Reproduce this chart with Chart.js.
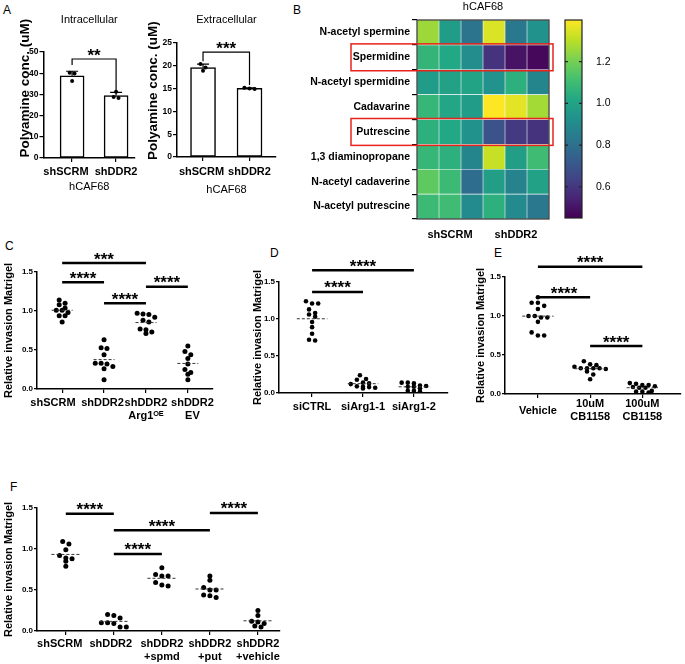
<!DOCTYPE html>
<html>
<head>
<meta charset="utf-8">
<script src="https://cdn.jsdelivr.net/npm/chart.js@4.4.1/dist/chart.umd.min.js"></script>
<style>
  body { margin: 0; background: #fff; width: 685px; height: 664px; position: relative; overflow: hidden; font-family: "Liberation Sans", Arial, sans-serif; }
  canvas { position: absolute; }
  .tag { position: absolute; font-size: 12px; line-height: 14px; color: #000; }
</style>
</head>
<body>
<div class="tag" style="left:3px;top:3px">A</div>
<div class="tag" style="left:293px;top:3px">B</div>
<div class="tag" style="left:5px;top:239px">C</div>
<div class="tag" style="left:270px;top:246px">D</div>
<div class="tag" style="left:494px;top:246px">E</div>
<div class="tag" style="left:10px;top:480px">F</div>

<canvas id="aIn" width="150" height="200" style="left:0;top:0"></canvas>
<canvas id="aEx" width="150" height="200" style="left:135px;top:0"></canvas>
<canvas id="heat" width="330" height="240" style="left:230px;top:0"></canvas>
<canvas id="cbar" width="60" height="240" style="left:560px;top:0"></canvas>
<canvas id="pC" width="225" height="200" style="left:0;top:225px"></canvas>
<canvas id="pD" width="225" height="200" style="left:230px;top:225px"></canvas>
<canvas id="pE" width="230" height="200" style="left:455px;top:225px"></canvas>
<canvas id="pF" width="300" height="209" style="left:0;top:455px"></canvas>

<script>
// ---- data ----
// A: polyamine conc. (uM), hCAF68
const barLabels = ['shSCRM', 'shDDR2'];
const intraSCRM = [40.2, 39.8, 36.3];
const intraDDR2 = [31.2, 28.3, 28.8];
const extraSCRM = [20.4, 18.9, 19.6];
const extraDDR2 = [15.2, 14.9, 15.0];
const intraBracket = [46.7, 43.9, 32.1]; // bar level, left end, right end
const extraBracket = [23.0, 21.0, 15.8];

// B: heatmap, 3 shSCRM + 3 shDDR2 columns
const heatRows = ['N-acetyl spermine', 'Spermidine', 'N-acetyl spermidine', 'Cadavarine',
  'Putrescine', '1,3 diaminopropane', 'N-acetyl cadaverine', 'N-acetyl putrescine'];
const heatGroups = ['shSCRM', 'shDDR2'];
const nAcSpermine    = [1.26, 0.97, 0.81, 1.35, 0.83, 0.93];
const spermidine     = [1.07, 1.02, 0.91, 0.59, 0.50, 0.47];
const nAcSpermidine  = [0.97, 0.99, 1.00, 0.93, 1.05, 0.88];
const cadavarine     = [1.08, 1.01, 0.97, 1.40, 1.36, 1.27];
const putrescine     = [1.05, 1.02, 0.93, 0.69, 0.61, 0.59];
const diaminopropane = [1.08, 1.05, 0.88, 1.32, 0.98, 1.10];
const nAcCadaverine  = [1.16, 1.09, 0.79, 0.98, 0.87, 0.99];
const nAcPutrescine  = [1.09, 1.10, 0.90, 1.05, 0.90, 0.83];
const boxedRows = ['Spermidine', 'Putrescine'];
const cbarRange = [0.45, 1.4];
const cbarTicks = [0.6, 0.8, 1.0, 1.2];

// C
const cLabels = ['shSCRM', 'shDDR2', ['shDDR2', 'Arg1\u1D3C\u1D31'], ['shDDR2', 'EV']];
const cSCRM = [1.14, 1.10, 1.08, 1.04, 0.98, 1.01, 1.01, 0.94, 0.94, 0.86];
const cDDR2 = [0.63, 0.53, 0.52, 0.44, 0.33, 0.29, 0.32, 0.33, 0.26, 0.12];
const cArg1 = [0.96, 0.97, 0.955, 0.86, 0.88, 0.92, 0.71, 0.77, 0.76, 0.73];
const cEV   = [0.55, 0.44, 0.48, 0.39, 0.25, 0.32, 0.19, 0.21, 0.12];
const cSig  = [[0, 2, 1.615, '***'], [0, 1, 1.37, '****'], [1, 2, 1.10, '****'], [2, 3, 1.31, '****']];

// D
const dLabels = ['siCTRL', 'siArg1-1', 'siArg1-2'];
const dCTRL  = [1.21, 1.24, 1.21, 1.13, 1.08, 1.06, 0.96, 1.03, 0.89, 0.80, 0.71, 0.72];
const dArg1a = [0.24, 0.18, 0.19, 0.14, 0.12, 0.13, 0.085, 0.07, 0.08, 0.06, 0.09];
const dArg1b = [0.14, 0.14, 0.13, 0.10, 0.085, 0.095, 0.085, 0.065, 0.02, 0.03, 0.03];
const dSig   = [[0, 2, 1.66, '****'], [0, 1, 1.365, '****']];

// E
const eLabels = ['Vehicle', ['10uM', 'CB1158'], ['100uM', 'CB1158']];
const eVeh   = [1.24, 1.17, 1.17, 1.13, 1.09, 1.0, 0.98, 0.98, 1.0, 0.925, 0.75, 0.75, 0.79];
const eCB10  = [0.42, 0.38, 0.35, 0.37, 0.33, 0.32, 0.33, 0.33, 0.33, 0.29, 0.25, 0.19];
const eCB100 = [0.14, 0.115, 0.13, 0.115, 0.10, 0.08, 0.09, 0.08, 0.03, 0.03, 0.02, 0.04];
const eSig   = [[0, 2, 1.63, '****'], [0, 1, 1.24, '****'], [1, 2, 0.615, '****']];

// F
const fLabels = ['shSCRM', 'shDDR2', ['shDDR2', '+spmd'], ['shDDR2', '+put'], ['shDDR2', '+vehicle']];
const fSCRM = [1.09, 1.06, 0.99, 0.88, 0.89, 0.92, 0.85, 0.79];
const fDDR2 = [0.20, 0.19, 0.16, 0.05, 0.10, 0.09, 0.10, 0.05];
const fSpmd = [0.77, 0.67, 0.69, 0.67, 0.55, 0.59, 0.56];
const fPut  = [0.67, 0.62, 0.50, 0.53, 0.50, 0.41, 0.44, 0.43];
const fVeh  = [0.25, 0.19, 0.12, 0.11, 0.06, 0.09, 0.05];
const fSig  = [[0, 1, 1.43, '****'], [1, 3, 1.23, '****'], [1, 2, 0.94, '****'], [3, 4, 1.44, '****']];

// ---- helpers ----
Chart.defaults.font.family = '"Liberation Sans", "DejaVu Sans", Arial, sans-serif';
Chart.defaults.color = '#000';

const mean = a => a.reduce((s, v) => s + v, 0) / a.length;
const sd = a => { const m = mean(a); return Math.sqrt(a.reduce((s, v) => s + (v - m) ** 2, 0) / (a.length - 1)); };

// prism-like spreading of dots: similar values share a row
function swarm(vals, bin, step) {
  const idx = vals.map((v, i) => i).sort((a, b) => vals[b] - vals[a]);
  const off = vals.map(() => 0);
  let row = [];
  const flush = () => { row.forEach((k, n) => { off[k] = (n - (row.length - 1) / 2) * step; }); row = []; };
  idx.forEach(k => { if (row.length && vals[row[0]] - vals[k] > bin) flush(); row.push(k); });
  flush();
  return off;
}

// shift a label along its line with spaces (neg = trailing, pos = leading)
function nudge(label, n) {
  if (!n) return label;
  const pad = ' '.repeat(Math.abs(n));
  const f = s => n < 0 ? s + pad : pad + s;
  return Array.isArray(label) ? label.map(f) : f(label);
}

const starFont = 'bold 17px "Liberation Sans", Arial, sans-serif';
const starPlugin = {
  id: 'stars',
  afterDatasetsDraw(chart) {
    const ctx = chart.ctx;
    chart.data.datasets.forEach((d, i) => {
      if (!d.stars) return;
      const pts = chart.getDatasetMeta(i).data;
      ctx.save();
      ctx.font = starFont;
      ctx.textAlign = 'center';
      ctx.textBaseline = 'alphabetic';
      ctx.fillStyle = '#000';
      ctx.fillText(d.stars, (pts[0].x + pts[1].x) / 2, pts[0].y + 1.5);
      ctx.restore();
    });
  }
};

const axisGrid = { drawOnChartArea: false, tickLength: 4, color: '#000', lineWidth: 1.2, offset: false };
const axisBorder = { color: '#000', width: 1.5 };

// ---- A: bar charts ----
function barChart(id, groups, o) {
  const pts = [];
  groups.forEach((g, i) => {
    const off = swarm(g, o.bin, 0.11);
    g.forEach((v, k) => pts.push({ x: i + off[k], y: v }));
  });
  new Chart(document.getElementById(id), {
    type: 'bar',
    data: {
      datasets: [
        { type: 'scatter', data: pts, pointRadius: 2, backgroundColor: '#000', borderWidth: 0, order: 0 },
        { type: 'bar', data: groups.map((g, i) => ({ x: i, y: mean(g) })), backgroundColor: '#fff',
          borderColor: '#000', borderWidth: 1.5, borderSkipped: false, barThickness: o.bar, order: 1 }
      ]
    },
    options: {
      responsive: false, animation: false,
      layout: { padding: { top: 0, right: o.padRight, bottom: 0, left: 0 } },
      plugins: {
        legend: { display: false }, tooltip: { enabled: false },
        title: { display: true, text: o.title, fullSize: false, font: { size: 11, weight: 'normal' },
          padding: { top: 13.4, bottom: o.titleGap } }
      },
      scales: {
        x: {
          type: 'linear', min: o.xr[0], max: o.xr[1], offset: false,
          afterBuildTicks: s => { s.ticks = barLabels.map((_, i) => ({ value: i })); },
          afterFit: s => { s.height = o.xh; },
          ticks: { callback: (v, i) => nudge(barLabels[i], o.nudge[i]), autoSkip: false, maxRotation: 0, padding: o.xtp,
            font: { size: 11, weight: 'bold' } },
          title: { display: true, text: 'hCAF68', font: { size: 11, weight: 'normal' }, padding: { top: 0, bottom: o.xtb } },
          grid: axisGrid, border: axisBorder
        },
        y: {
          min: 0, max: o.ymax,
          ticks: { stepSize: o.ystep, padding: 1, font: { size: 8.5, weight: 'bold' } },
          title: { display: true, text: nudge('Polyamine conc. (uM)', o.titleShift), font: { size: 13.5, weight: 'bold' }, padding: { top: o.ytp, bottom: 0 } },
          afterFit: s => { s.width = o.yw; },
          grid: axisGrid, border: axisBorder
        }
      }
    },
    plugins: [{
      id: 'errbars',
      beforeDatasetsDraw(chart) {
        const { ctx, scales: { x, y } } = chart;
        ctx.save();
        ctx.strokeStyle = '#000';
        ctx.lineWidth = 1.2;
        groups.forEach((g, i) => {
          const px = x.getPixelForValue(i), y0 = y.getPixelForValue(mean(g)), y1 = y.getPixelForValue(mean(g) + sd(g));
          ctx.beginPath();
          ctx.moveTo(px, y0); ctx.lineTo(px, y1);
          ctx.moveTo(px - 6, y1); ctx.lineTo(px + 6, y1);
          ctx.stroke();
        });
        ctx.restore();
      }
    }, {
      id: 'bracket',
      afterDatasetsDraw(chart) {
        const { ctx, scales: { x, y } } = chart;
        const b = o.bracket;
        const x0 = x.getPixelForValue(0), x1 = x.getPixelForValue(1), yl = y.getPixelForValue(b[0]);
        ctx.save();
        ctx.strokeStyle = '#000';
        ctx.lineWidth = 1.2;
        ctx.beginPath();
        ctx.moveTo(x0, y.getPixelForValue(b[1]));
        ctx.lineTo(x0, yl); ctx.lineTo(x1, yl);
        ctx.lineTo(x1, y.getPixelForValue(b[2]));
        ctx.stroke();
        ctx.font = starFont;
        ctx.textAlign = 'center';
        ctx.fillStyle = '#000';
        ctx.fillText(o.stars, (x0 + x1) / 2, yl + 2);
        ctx.restore();
      }
    }]
  });
}

barChart('aIn', [intraSCRM, intraDDR2], {
  title: 'Intracellular', titleGap: 25.4, stars: '**', bracket: intraBracket,
  ymax: 50, ystep: 10, bin: 2, bar: 24, nudge: [-4, 0], titleShift: 9,
  xr: [-0.65, 1.43], yw: 43.5, padRight: 15, xh: 42, xtp: 3.4, xtb: 6.4, ytp: 16.9
});
barChart('aEx', [extraSCRM, extraDDR2], {
  title: 'Extracellular', titleGap: 16.4, stars: '***', bracket: extraBracket,
  ymax: 25, ystep: 5, bin: 0.9, bar: 25, nudge: [-1, 0], titleShift: 5,
  xr: [-0.56, 1.57], yw: 42, padRight: 9, xh: 43, xtp: 4.4, xtb: 3.4, ytp: 10.4
});

// ---- B: heatmap ----
const viridisStops = ['#440154', '#482475', '#414487', '#355f8d', '#2a788e', '#21918c',
  '#22a884', '#44bf70', '#7ad151', '#bddf26', '#fde725'];
function hexRgb(h) { return [1, 3, 5].map(i => parseInt(h.slice(i, i + 2), 16)); }
function viridis(v) {
  const t = Math.max(0, Math.min(1, (v - cbarRange[0]) / (cbarRange[1] - cbarRange[0])));
  const p = t * 10, i = Math.min(9, Math.floor(p)), f = p - i;
  const a = hexRgb(viridisStops[i]), b = hexRgb(viridisStops[i + 1]);
  return 'rgb(' + a.map((c, k) => Math.round(c + (b[k] - c) * f)).join(',') + ')';
}

const heat = [nAcSpermine, spermidine, nAcSpermidine, cadavarine, putrescine, diaminopropane, nAcCadaverine, nAcPutrescine];
const heatSets = heat[0].map((_, c) => ({
  data: heatRows.map(() => 1),
  backgroundColor: heat.map(r => viridis(r[c])),
  borderColor: 'rgba(255,255,255,0.3)', borderWidth: 0.6, borderSkipped: false,
  barPercentage: 1, categoryPercentage: 1, stack: 'h'
}));

new Chart(document.getElementById('heat'), {
  type: 'bar',
  data: { labels: heatRows, datasets: heatSets },
  options: {
    indexAxis: 'y', responsive: false, animation: false,
    layout: { padding: { top: 0, right: 11, bottom: 0, left: 0 } },
    plugins: {
      legend: { display: false }, tooltip: { enabled: false },
      title: { display: true, text: 'hCAF68', fullSize: false, font: { size: 11, weight: 'normal' }, padding: { top: 0.5, bottom: 6.3 } }
    },
    scales: {
      x: {
        type: 'linear', stacked: true, min: 0, max: 6,
        afterBuildTicks: s => { s.ticks = [{ value: 1.5 }, { value: 4.5 }]; },
        afterFit: s => { s.height = 21; },
        ticks: { callback: (v, i) => heatGroups[i], padding: 1, font: { size: 11, weight: 'bold' } },
        grid: { display: false }, border: { display: false }
      },
      y: {
        stacked: true,
        afterFit: s => { s.width = 187; },
        ticks: { padding: 2, font: { size: 10.5, weight: 'bold' } },
        grid: { drawOnChartArea: false, tickLength: 5, color: '#000', lineWidth: 1.2 },
        border: { display: false }
      }
    }
  },
  plugins: [{
    id: 'frame',
    afterDatasetsDraw(chart) {
      const { ctx, chartArea: a, scales: { y } } = chart;
      const band = (a.bottom - a.top) / heatRows.length;
      ctx.save();
      ctx.strokeStyle = '#333';
      ctx.lineWidth = 1.2;
      ctx.strokeRect(a.left, a.top, a.right - a.left, a.bottom - a.top);
      ctx.strokeStyle = '#e8231c';
      ctx.lineWidth = 1.5;
      boxedRows.forEach(name => {
        const c = y.getPixelForValue(heatRows.indexOf(name));
        ctx.strokeRect(a.left - 66, c - band / 2 - 1, a.right - a.left + 70, band + 2);
      });
      ctx.restore();
    }
  }]
});

// colour bar
new Chart(document.getElementById('cbar'), {
  type: 'bar',
  data: {
    labels: [''],
    datasets: [{
      data: [cbarRange],
      backgroundColor: ctx => {
        const a = ctx.chart.chartArea;
        if (!a) return null;
        const g = ctx.chart.ctx.createLinearGradient(0, a.bottom, 0, a.top);
        viridisStops.forEach((c, i) => g.addColorStop(i / 10, c));
        return g;
      },
      barPercentage: 1, categoryPercentage: 1, borderWidth: 0
    }]
  },
  options: {
    responsive: false, animation: false,
    layout: { padding: { top: 20, right: 0, bottom: 22, left: 5 } },
    plugins: { legend: { display: false }, tooltip: { enabled: false } },
    scales: {
      x: { display: false },
      y: {
        position: 'right', min: cbarRange[0], max: cbarRange[1],
        afterBuildTicks: s => { s.ticks = cbarTicks.map(v => ({ value: v })); },
        afterFit: s => { s.width = 38; },
        ticks: { callback: v => v.toFixed(1), padding: 6, font: { size: 10.5 } },
        grid: { display: false }, border: { display: false }
      }
    }
  },
  plugins: [{
    id: 'marks',
    afterDatasetsDraw(chart) {
      const { ctx, chartArea: a, scales: { y } } = chart;
      ctx.save();
      ctx.strokeStyle = '#222';
      ctx.lineWidth = 1.2;
      y.ticks.forEach(t => {
        const py = y.getPixelForValue(t.value);
        ctx.beginPath();
        ctx.moveTo(a.left, py); ctx.lineTo(a.left + 3, py);
        ctx.moveTo(a.right - 3, py); ctx.lineTo(a.right, py);
        ctx.stroke();
      });
      ctx.strokeRect(a.left, a.top, a.right - a.left, a.bottom - a.top);
      ctx.restore();
    }
  }]
});

// ---- C-F: dot plots ----
function dotChart(id, groups, labels, sig, o) {
  const ds = [];
  const pts = [];
  groups.forEach((g, i) => {
    const off = swarm(g, 0.05, o.step);
    g.forEach((v, k) => pts.push({ x: i + off[k], y: v }));
    const m = mean(g);
    ds.push({ type: 'line', data: [{ x: i - o.half, y: m }, { x: i + o.half, y: m }],
      borderColor: '#333', borderWidth: 1, borderDash: [3, 2], pointRadius: 0 });
  });
  sig.forEach(s => ds.push({ type: 'line', data: [{ x: s[0], y: s[2] }, { x: s[1], y: s[2] }],
    borderColor: '#000', borderWidth: 2.5, pointRadius: 0, clip: false, stars: s[3] }));
  ds.push({ type: 'scatter', data: pts, pointRadius: o.r, backgroundColor: '#000', borderWidth: 0 });
  const shift = o.nudge || [];

  new Chart(document.getElementById(id), {
    type: 'scatter',
    data: { datasets: ds },
    options: {
      responsive: false, animation: false,
      layout: { padding: { top: o.padTop, right: o.padRight, bottom: 0, left: 0 } },
      plugins: { legend: { display: false }, tooltip: { enabled: false } },
      scales: {
        x: {
          type: 'linear', min: o.xr[0], max: o.xr[1],
          afterBuildTicks: s => { s.ticks = labels.map((_, i) => ({ value: i })); },
          afterFit: s => { s.height = o.xh; },
          ticks: { callback: (v, i) => nudge(labels[i], shift[i]), autoSkip: false, maxRotation: 0, padding: o.xtp,
            crossAlign: o.cross || 'near', font: { size: 11, weight: 'bold' } },
          grid: axisGrid, border: axisBorder
        },
        y: {
          min: 0, max: 1.5,
          ticks: { stepSize: 0.5, callback: v => v.toFixed(1), padding: 1, font: { size: 8, weight: 'bold' } },
          title: { display: true, text: 'Relative invasion Matrigel', font: { size: 11, weight: 'bold' }, padding: { top: o.ytp, bottom: 0 } },
          afterFit: s => { s.width = o.yw; },
          grid: Object.assign({}, axisGrid, { tickLength: 3 }), border: axisBorder
        }
      }
    },
    plugins: [starPlugin]
  });
}

dotChart('pC', [cSCRM, cDDR2, cArg1, cEV], cLabels, cSig,
  { xr: [-0.6, 3.6], yw: 37, padTop: 47, padRight: 12, xh: 36, xtp: 3.4, ytp: 2.4, step: 0.14, half: 0.25, r: 2.5,
    nudge: [-6, -1, 0, 3] });
dotChart('pD', [dCTRL, dArg1a, dArg1b], dLabels, dSig,
  { xr: [-0.65, 2.67], yw: 49, padTop: 57, padRight: 7, xh: 32, xtp: 3.4, ytp: 20.9, step: 0.12, half: 0.3, r: 2.3 });
dotChart('pE', [eVeh, eCB10, eCB100], eLabels, eSig,
  { xr: [-0.63, 2.74], yw: 50, padTop: 52, padRight: 3, xh: 31, xtp: 5.9, ytp: 19.4, step: 0.12, half: 0.3, r: 2.3, cross: 'center' });
dotChart('pF', [fSCRM, fDDR2, fSpmd, fPut, fVeh], fLabels, fSig,
  { xr: [-0.6, 4.46], yw: 37, padTop: 53, padRight: 20, xh: 33, xtp: 2.4, ytp: 2.4, step: 0.13, half: 0.3, r: 2.5,
    nudge: [-4, -2, 0, 0, 0] });
</script>
</body>
</html>
